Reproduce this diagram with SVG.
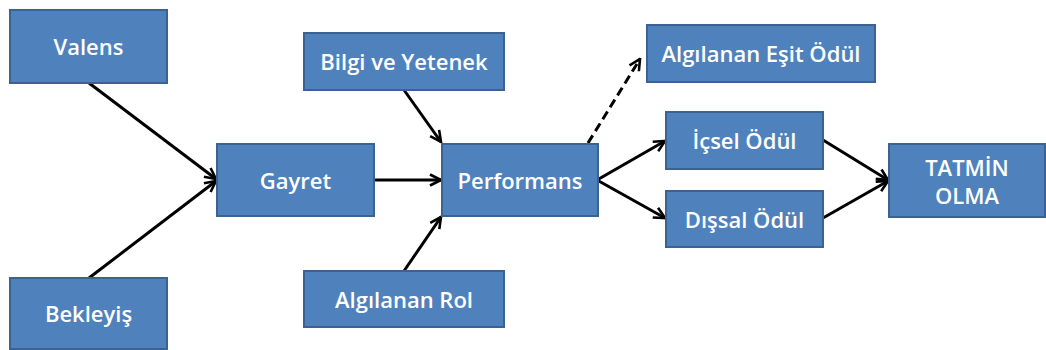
<svg xmlns="http://www.w3.org/2000/svg" width="1046" height="350" viewBox="0 0 1046 350">
<defs>
<style>
.box{fill:#4F81BD;stroke:#3A6394;stroke-width:2}
.t{fill:#fff;font-family:"Open Sans","Liberation Sans",sans-serif;font-size:22px;font-weight:600;text-anchor:middle;dominant-baseline:central}
.c{stroke:#000;stroke-width:3;fill:none;marker-end:url(#ah)}
.d{stroke-dasharray:9,5}
</style>
<marker id="ah" viewBox="0 0 14 14" refX="12.5" refY="7" markerWidth="14" markerHeight="14" markerUnits="userSpaceOnUse" orient="auto">
<path d="M1.5,1.5 L12.5,7 L1.5,12.5" fill="none" stroke="#000" stroke-width="2.6"/>
</marker>
</defs>
<rect width="1046" height="350" fill="#fff"/>
<g id="connectors">
<line class="c" x1="89" y1="83" x2="216" y2="179"/>
<line class="c" x1="89" y1="278" x2="216" y2="181"/>
<line class="c" x1="374" y1="180" x2="441" y2="180"/>
<line class="c" x1="404" y1="90" x2="441" y2="142"/>
<line class="c" x1="404" y1="271" x2="441" y2="217"/>
<line class="c d" x1="588" y1="143" x2="640" y2="59"/>
<line class="c" x1="597" y1="180" x2="665" y2="141"/>
<line class="c" x1="597" y1="180" x2="665" y2="218"/>
<line class="c" x1="823" y1="140" x2="888" y2="180"/>
<line class="c" x1="823" y1="218" x2="888" y2="181"/>
</g>
<g id="valens"><rect class="box" x="10" y="10" width="157" height="73"/><text class="t" x="88.5" y="46">Valens</text></g>
<g id="bekleyis"><rect class="box" x="10" y="278" width="157" height="71"/><text class="t" x="88.5" y="313">Bekleyiş</text></g>
<g id="gayret"><rect class="box" x="217" y="144" width="157" height="72"/><text class="t" x="295.5" y="180">Gayret</text></g>
<g id="bilgi"><rect class="box" x="304" y="33" width="200" height="57"/><text class="t" x="404" y="61">Bilgi ve Yetenek</text></g>
<g id="rol"><rect class="box" x="304" y="271" width="200" height="56"/><text class="t" x="404" y="299">Algılanan Rol</text></g>
<g id="performans"><rect class="box" x="442" y="144" width="156" height="72"/><text class="t" x="520" y="180">Performans</text></g>
<g id="esit"><rect class="box" x="647" y="25" width="228" height="57"/><text class="t" x="761" y="53">Algılanan Eşit Ödül</text></g>
<g id="icsel"><rect class="box" x="666" y="112" width="157" height="57"/><text class="t" x="744.5" y="140">İçsel Ödül</text></g>
<g id="dissal"><rect class="box" x="666" y="191" width="157" height="56"/><text class="t" x="744.5" y="219">Dışsal Ödül</text></g>
<g id="tatmin"><rect class="box" x="889" y="144" width="156" height="73"/><text class="t" x="967" y="167">TATMİN</text><text class="t" x="967" y="195">OLMA</text></g>
</svg>
